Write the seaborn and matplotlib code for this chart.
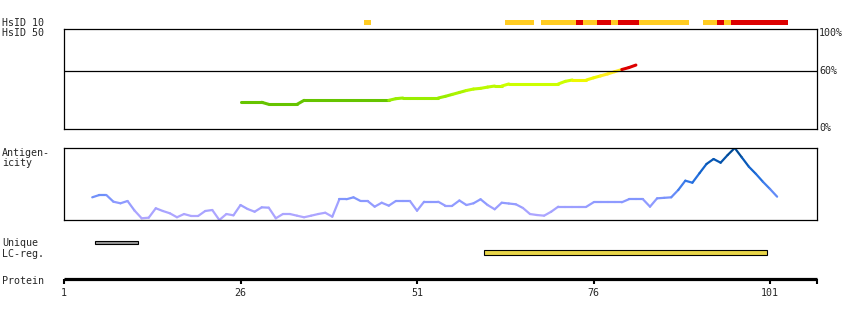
import numpy as np
import pandas as pd
import matplotlib
matplotlib.use("Agg")
import matplotlib.pyplot as plt
import seaborn as sns
from matplotlib.colors import LinearSegmentedColormap, to_hex

# ---------------- data ----------------
hsid10_start = [43.5, 63.5, 68.5, 73.5, 74.5, 76.5, 78.5, 79.5, 82.5, 91.5, 93.5, 94.5, 95.5]
hsid10_end = [44.5, 67.5, 73.5, 74.5, 76.5, 78.5, 79.5, 82.5, 89.5, 93.5, 94.5, 95.5, 103.5]
hsid10_level = ["mid", "mid", "mid", "high", "mid", "high", "mid", "high", "mid",
                "mid", "high", "mid", "high"]

hsid50_first = 26
hsid50_pct = [27.4, 27.4, 27.4, 27.4,
              25.3, 25.3, 25.3, 25.3, 25.3,
              29.4, 29.4, 29.4, 29.4, 29.4, 29.4, 29.4, 29.4, 29.4, 29.4, 29.4, 29.4, 29.4,
              31.1,
              31.8, 31.8, 31.8, 31.8, 31.8, 31.8,
              33.5, 35.5, 37.5, 39.5, 41.0, 41.7, 43.0, 44.1, 44.1,
              46.2, 46.2, 46.2, 46.2, 46.2, 46.2, 46.2, 46.2,
              48.9, 50.3, 50.3, 50.3, 52.5, 54.5, 56.5, 58.8, 61.0, 63.0, 65.6]

antigen_first = 5
antigen_val = [0.315, 0.347, 0.347, 0.254, 0.232, 0.264, 0.13, 0.024, 0.032, 0.163,
               0.125, 0.093, 0.038, 0.083, 0.056, 0.056, 0.125, 0.139, 0.0, 0.083,
               0.065, 0.208, 0.153, 0.115, 0.176, 0.171, 0.024, 0.083, 0.083, 0.06,
               0.038, 0.06, 0.083, 0.101, 0.046, 0.288, 0.288, 0.315, 0.264, 0.264,
               0.185, 0.24, 0.199, 0.264, 0.264, 0.264, 0.129, 0.254, 0.254, 0.254,
               0.199, 0.199, 0.271, 0.208, 0.232, 0.288, 0.208, 0.149, 0.24, 0.229,
               0.218, 0.167, 0.083, 0.069, 0.06, 0.115, 0.185, 0.185, 0.185, 0.185,
               0.185, 0.246, 0.246, 0.246, 0.246, 0.246, 0.288, 0.288, 0.288, 0.185,
               0.301, 0.308, 0.315, 0.417, 0.546, 0.518, 0.649, 0.778, 0.847, 0.796,
               0.903, 1.0, 0.87, 0.74, 0.64, 0.53, 0.43, 0.324]

unique_start = [5.4]
unique_end = [11.5]
lcreg_start = [60.5]
lcreg_end = [100.5]

protein_ticks = [1, 26, 51, 76, 101]
protein_end = 107.65

row_labels = ["HsID 10", "HsID 50", "Antigen-\nicity", "Unique\nLC-reg.", "Protein"]
pct_labels = ["100%", "60%", "0%"]

# ---------------- style ----------------
sns.set_theme(style="white")
plt.rcParams["font.family"] = ["DejaVu Sans Mono"]
FS = 7.2
W, H = 850, 320
XL = (1, protein_end)


def rect(x0, y0, x1, y1):
    return [x0 / W, 1 - y1 / H, (x1 - x0) / W, (y1 - y0) / H]


def hsid_color(v):
    if v >= 60:
        return "#dd0000"
    if v >= 55:
        return "#ffee22"
    if v >= 50:
        return "#eef800"
    if v >= 45:
        return "#ccff00"
    if v >= 40:
        return "#bbfa00"
    if v >= 35:
        return "#aaf400"
    if v >= 30:
        return "#99ee00"
    return "#66c400"


ag_cmap = LinearSegmentedColormap.from_list(
    "ag", [(0.0, "#b4a8ff"), (0.15, "#a4a2ff"), (0.27, "#8898ff"), (0.4, "#5a88f5"),
           (0.55, "#2a74e4"), (0.75, "#0c5ec6"), (0.9, "#004e9e"), (1.0, "#00468f")])


def segments_df(first, vals, colfun):
    rows, pal = [], {}
    for i in range(len(vals) - 1):
        key = f"s{i}"
        pal[key] = colfun((vals[i] + vals[i + 1]) / 2)
        rows.append((first + i, vals[i], key))
        rows.append((first + i + 1, vals[i + 1], key))
    return pd.DataFrame(rows, columns=["pos", "val", "seg"]), pal


fig = plt.figure(figsize=(W / 100, H / 100), dpi=100)

# HsID 10 bars
ax10 = fig.add_axes(rect(64, 20, 817, 25))
cols10 = {"mid": "#ffcc22", "high": "#dd0000"}
ax10.barh([0.5] * len(hsid10_start), np.array(hsid10_end) - np.array(hsid10_start),
          left=hsid10_start, height=1.0, color=[cols10[l] for l in hsid10_level], linewidth=0)
ax10.set_xlim(*XL)
ax10.set_ylim(0, 1)
ax10.axis("off")

# HsID 50 panel
ax50 = fig.add_axes(rect(64, 29, 817, 129))
df50, pal50 = segments_df(hsid50_first, hsid50_pct, hsid_color)
sns.lineplot(data=df50, x="pos", y="val", hue="seg", units="seg", estimator=None,
             palette=pal50, legend=False, linewidth=2.2, sort=False, ax=ax50)
ax50.axhline(60, color="black", lw=0.9)
ax50.set_xlim(*XL)
ax50.set_ylim(0, 102.6)
ax50.set_xticks([])
ax50.set_yticks([])
ax50.set_xlabel("")
ax50.set_ylabel("")
for s in ax50.spines.values():
    s.set_color("black")
    s.set_linewidth(0.9)

# Antigenicity panel
axag = fig.add_axes(rect(64, 148, 817, 220))
dfag, palag = segments_df(antigen_first, antigen_val, lambda v: to_hex(ag_cmap(v)))
sns.lineplot(data=dfag, x="pos", y="val", hue="seg", units="seg", estimator=None,
             palette=palag, legend=False, linewidth=1.6, sort=False, ax=axag)
axag.set_xlim(*XL)
axag.set_ylim(0, 1)
axag.set_xticks([])
axag.set_yticks([])
axag.set_xlabel("")
axag.set_ylabel("")
for s in axag.spines.values():
    s.set_color("black")
    s.set_linewidth(0.9)

# Unique / LC-reg bars
axu = fig.add_axes(rect(64, 236, 817, 258))
axu.barh([242.5], np.array(unique_end) - np.array(unique_start), left=unique_start,
         height=3.6, color="#999999", edgecolor="black", linewidth=0.8)
axu.barh([252.4], np.array(lcreg_end) - np.array(lcreg_start), left=lcreg_start,
         height=4.4, color="#e8d548", edgecolor="black", linewidth=0.8)
axu.set_xlim(*XL)
axu.set_ylim(258, 236)
axu.axis("off")

# Protein axis
axp = fig.add_axes(rect(64, 262, 817, 279.3))
axp.set_xlim(*XL)
axp.set_ylim(0, 1)
axp.set_yticks([])
for k in ["top", "left", "right"]:
    axp.spines[k].set_visible(False)
axp.spines["bottom"].set_color("black")
axp.spines["bottom"].set_linewidth(2.3)
axp.spines["bottom"].set_capstyle("butt")
axp.set_xticks(protein_ticks + [protein_end])
axp.set_xticklabels([str(t) for t in protein_ticks] + [""], fontsize=FS)
axp.tick_params(axis="x", direction="out", length=3.5, width=1.5, color="black",
                pad=3, bottom=True)
axp.patch.set_alpha(0)

# Text labels
fig.text(2 / W, 1 - 23.3 / H, row_labels[0], fontsize=FS, va="center", ha="left")
fig.text(2 / W, 1 - 33.3 / H, row_labels[1], fontsize=FS, va="center", ha="left")
fig.text(2 / W, 1 - 158.3 / H, row_labels[2], fontsize=FS, va="center", ha="left",
         linespacing=1.05)
fig.text(2 / W, 1 - 248.5 / H, row_labels[3], fontsize=FS, va="center", ha="left",
         linespacing=1.05)
fig.text(2 / W, 1 - 280.7 / H, row_labels[4], fontsize=FS, va="center", ha="left")
for lab, yy in zip(pct_labels, [33.3, 71, 128.3]):
    fig.text(819 / W, 1 - yy / H, lab, fontsize=FS, va="center", ha="left")

fig.savefig("out.png", dpi=100)
